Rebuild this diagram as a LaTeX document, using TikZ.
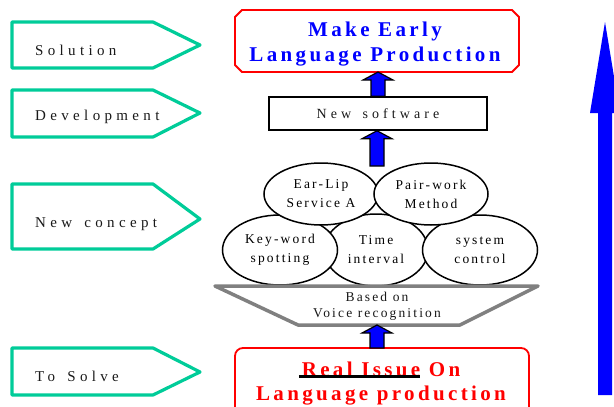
\documentclass[tikz,border=0pt]{standalone}
\usepackage{fontspec}
\usetikzlibrary{shapes.geometric,calc}
\setmainfont{Liberation Serif}
\newfontfamily\lblfont[LetterSpace=29,WordSpace=1.5]{Liberation Serif}
\newfontfamily\smfont[LetterSpace=16]{Liberation Serif}
\newfontfamily\bigfont[LetterSpace=16]{Liberation Serif}
\definecolor{tealgreen}{RGB}{0,204,153}
\definecolor{midgray}{RGB}{128,128,128}
\newcommand\thickul[1]{\setbox0\hbox{#1}\copy0\llap{\color{black}\rule[-1.5pt]{\dimexpr\wd0+3pt\relax}{3.6pt}}}
% block arrow from #2 (bottom) to #3 (top)
\newcommand\blockarrow[3][black]{%
  \path[fill=blue,draw=#1,line width=1.2pt,line join=miter]
    let \p1=(#2), \p2=(#3) in
    ({\x1-7pt},{\y1}) -- ({\x1-7pt},{\y2-8pt}) -- ({\x1-15pt},{\y2-8pt}) --
    ({\x1},{\y2}) -- ({\x1+15pt},{\y2-8pt}) -- ({\x1+7pt},{\y2-8pt}) --
    ({\x1+7pt},{\y1}) -- cycle;}
\tikzset{
  tagshape/.style={draw=tealgreen, line width=3.2pt, line join=round, fill=white},
  taglabel/.style={anchor=base west, inner sep=0pt, font=\fontsize{15}{18}\selectfont\lblfont, text=black!90},
  bubble/.style={ellipse, draw=black, line width=1.5pt, fill=white, inner sep=0pt,
    align=center, font=\fontsize{13.5}{19}\selectfont\smfont},
  redbox/.style={draw=red, line width=1.8pt, fill=white},
}
\begin{document}
\begin{tikzpicture}[x=1pt,y=-1pt]
\useasboundingbox (0,0) rectangle (614,407);
\clip (0,0) rectangle (614,407);

% left tags
\draw[tagshape] (12,22) -- (153,22) -- (200,45) -- (153,68) -- (12,68) -- cycle;
\node[taglabel] (tsol) at (35,55) {Solution};
\draw[tagshape] (12,90) -- (153,90) -- (200,113) -- (153,137) -- (12,137) -- cycle;
\node[taglabel] (tdev) at (35,120) {Development};
\draw[tagshape] (12,184) -- (153,184) -- (200,219) -- (153,249) -- (12,249) -- cycle;
\node[taglabel] (tnew) at (35,227) {New concept};
\draw[tagshape] (12,348) -- (153,348) -- (200,372) -- (153,395) -- (12,395) -- cycle;
\node[taglabel] (tsolve) at (35,381) {To Solve};

% top goal box (chamfered)
\draw[redbox] (242,10) -- (512,10) -- (519,17) -- (519,65) -- (512,72) -- (242,72) -- (235,65) -- (235,17) -- cycle;
\node[align=center, text=blue, font=\fontsize{21}{25}\selectfont\bfseries\bigfont, inner sep=0pt] (goal) at (375,44)
  {Make Early\\Language Production};
\coordinate (goalS) at (377,72);

% software box
\node[draw=black, line width=1.5pt, fill=white, minimum width=218pt, minimum height=33pt, inner sep=0pt,
  font=\fontsize{14}{17}\selectfont\lblfont, text=black!90] (sw) at (378,113.5) {New software};

% ellipses: lower row first
\node[bubble, minimum width=104pt, minimum height=72pt] (time) at (376,250) {Time\\interval};
\node[bubble, minimum width=115pt, minimum height=70pt] (key) at (280,250) {Key-word\\spotting};
\node[bubble, minimum width=115pt, minimum height=70pt] (sys) at (480,250) {system\\control};
\node[bubble, minimum width=114pt, minimum height=62pt] (ear) at (321,194) {Ear-Lip\\Service A};
\node[bubble, minimum width=114pt, minimum height=62pt] (pair) at (431,194) {Pair-work\\Method};
\coordinate (ellTop) at (377,166);

% trapezoid
\draw[draw=midgray, line width=3.5pt, fill=white, line join=round] (215,286) -- (538,286) -- (460,325) -- (298,325) -- cycle;
\node[align=center, inner sep=0pt, font=\fontsize{13.5}{16}\selectfont\smfont, text=black!90] (base) at (377,306)
  {Based on\\Voice recognition};
\coordinate (baseS) at (377,325);

% bottom issue box
\draw[redbox, rounded corners=8pt] (235,420) -- (235,348) -- (529,348) -- (529,420);
\node[align=center, text=red, font=\fontsize{21}{24}\selectfont\bfseries\bigfont, inner sep=0pt] (issue) at (381,384)
  {\thickul{Real Issue} On\\Language production};
\coordinate (issueN) at (377,348);

% block arrows
\blockarrow{sw.north}{goalS}
\blockarrow{ellTop}{sw.south}
\blockarrow{issueN}{baseS}

% big right arrow
\coordinate (bigS) at (605,395);
\coordinate (bigN) at (605,22);
\path[fill=blue] let \p1=(bigS), \p2=(bigN) in
  ({\x1-7pt},{\y1}) -- ({\x1-7pt},{\y2-91pt}) -- ({\x1-15pt},{\y2-91pt}) -- ({\x1},{\y2}) --
  ({\x1+15pt},{\y2-91pt}) -- ({\x1+7pt},{\y2-91pt}) -- ({\x1+7pt},{\y1}) -- cycle;
\end{tikzpicture}
\end{document}
